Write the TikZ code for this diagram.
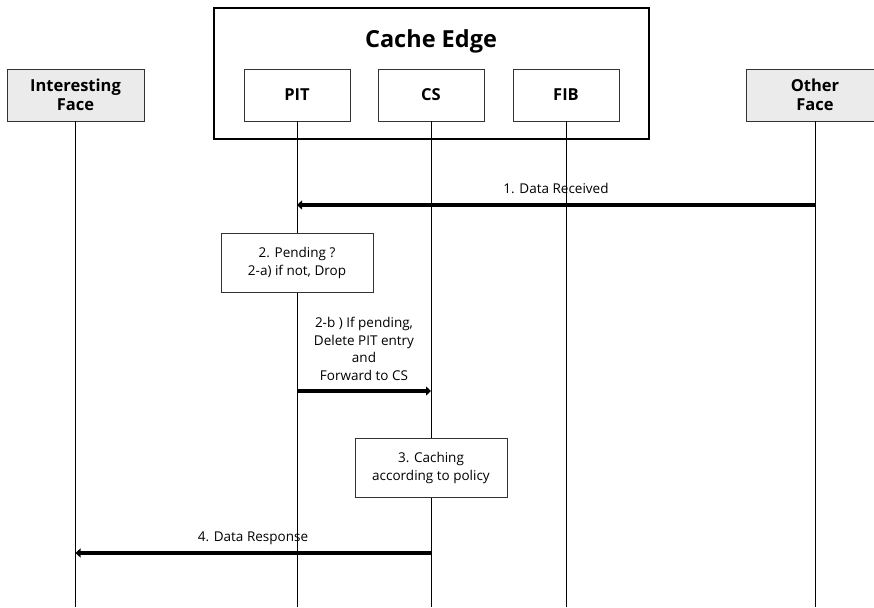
\documentclass[tikz,border=0pt]{standalone}
\usepackage{fontspec}
\setmainfont{Open Sans}
\usetikzlibrary{arrows.meta}
\begin{document}
\begin{tikzpicture}[x=1pt,y=-1pt,
  party/.style={draw=black!80, line width=0.8pt, fill=black!8, minimum width=137pt, minimum height=52pt, inner sep=0pt, align=center, font=\bfseries\fontsize{16.5}{18.5}\selectfont},
  comp/.style={draw=black!80, line width=0.8pt, fill=white, minimum width=106pt, minimum height=52pt, inner sep=0pt, font=\bfseries\fontsize{16.5}{18.5}\selectfont},
  note/.style={draw=black!80, line width=0.8pt, fill=white, minimum width=152pt, minimum height=59pt, inner sep=0pt, align=center, font=\fontsize{13.5}{18}\selectfont},
  outer/.style={draw=black, line width=2.6pt},
  life/.style={line width=0.8pt},
  msg/.style={line width=4.5pt, -{Triangle[length=5pt,width=9pt]}},
  lbl/.style={inner sep=0pt, align=center, font=\fontsize{13.5}{17.5}\selectfont}]
\useasboundingbox (0,0) rectangle (874,607);
\clip (0,0) rectangle (874,607);
% Cache Edge container
\node[outer, minimum width=435pt, minimum height=131pt, inner sep=0pt] (edge) at (431.5,73.5) {};
\node[inner sep=0pt, font=\bfseries\fontsize{23.5}{25}\selectfont] (title) at (431,41) {Cache Edge};
% participants
\node[party] (iface) at (75.5,95) {Interesting\\Face};
\node[comp] (pit) at (297,95) {PIT};
\node[comp] (cs) at (431,95) {CS};
\node[comp] (fib) at (566,95) {FIB};
\node[party] (oface) at (815,95) {Other\\Face};
% lifeline ends
\coordinate (iend) at (iface.south |- 0,607);
\coordinate (pend) at (pit.south |- 0,607);
\coordinate (cend) at (cs.south |- 0,607);
\coordinate (fend) at (fib.south |- 0,607);
\coordinate (oend) at (oface.south |- 0,607);
\draw[life] (iface.south) -- (iend);
\draw[life] (pit.south) -- (pend);
\draw[life] (cs.south) -- (cend);
\draw[life] (fib.south) -- (fend);
\draw[life] (oface.south) -- (oend);
% notes
\node[note] (n2) at (297,262.5) {2. Pending ?\\2-a) if not, Drop};
\node[note] (n3) at (431,468) {3. Caching\\according to policy};
% message anchor points
\coordinate (m1s) at (oface.south |- 0,205);
\coordinate (m1e) at (pit.south |- 0,205);
\coordinate (m2s) at (pit.south |- 0,391);
\coordinate (m2e) at (cs.south |- 0,391);
\coordinate (m4s) at (cs.south |- 0,553);
\coordinate (m4e) at (iface.south |- 0,553);
\draw[msg] (m1s) -- (m1e);
\draw[msg] (m2s) -- (m2e);
\draw[msg] (m4s) -- (m4e);
% labels
\node[lbl] (l1) at (556,188) {1. Data Received};
\node[lbl] (l2) at (364,349) {2-b ) If pending,\\Delete PIT entry\\and\\Forward to CS};
\node[lbl] (l4) at (253,538) {4. Data Response};
\end{tikzpicture}
\end{document}
